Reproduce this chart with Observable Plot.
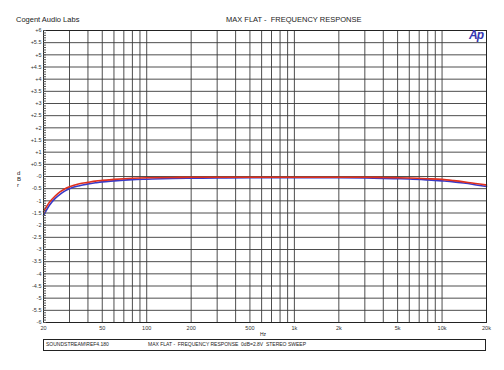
<!DOCTYPE html>
<html><head><meta charset="utf-8">
<script src="https://cdn.jsdelivr.net/npm/d3@7"></script>
<script src="https://cdn.jsdelivr.net/npm/@observablehq/plot@0.6"></script>
<style>
body{margin:0;background:#fff;font-family:"Liberation Sans",Arial,sans-serif;}
#wrap{position:relative;width:504px;height:370px;}
.t{position:absolute;white-space:pre;color:#222;line-height:1;}
</style></head><body><div id="wrap"></div>
<script>
const freqs = [20,22,24,26,28,30,35,40,45,50,60,70,80,100,150,200,300,500,1000,2000,3000,4000,5000,6000,8000,10000,12000,14000,16000,18000,20000];
const redDb = [-1.45,-1.05,-0.8,-0.62,-0.5,-0.42,-0.3,-0.24,-0.19,-0.16,-0.12,-0.09,-0.07,-0.05,-0.04,-0.03,-0.03,-0.03,-0.03,-0.03,-0.03,-0.04,-0.05,-0.06,-0.09,-0.12,-0.17,-0.22,-0.27,-0.31,-0.35];
const blueDb = [-1.6,-1.17,-0.9,-0.72,-0.59,-0.5,-0.38,-0.31,-0.26,-0.22,-0.18,-0.15,-0.13,-0.11,-0.08,-0.07,-0.06,-0.05,-0.05,-0.05,-0.06,-0.08,-0.09,-0.1,-0.14,-0.18,-0.22,-0.27,-0.32,-0.37,-0.41];
const xTickValues = [20,50,100,200,500,1000,2000,5000,10000,20000];
const xTickText = ["20","50","100","200","500","1k","2k","5k","10k","20k"];
const xGrid = [30,40,50,60,70,80,90,100,200,300,400,500,600,700,800,900,1000,2000,3000,4000,5000,6000,7000,8000,9000,10000];
const yMajor = d3.range(-6, 6.001, 0.5).map(v => +v.toFixed(1));
const yMinor = d3.range(-6, 6.001, 0.1).map(v => +v.toFixed(1));
const titleLeft = "Cogent Audio Labs";
const titleCenter = "MAX FLAT -  FREQUENCY RESPONSE";
const footLeft = "SOUNDSTREAM\\REF4.180";
const footRight = "MAX FLAT -  FREQUENCY RESPONSE  0dB=2.8V  STEREO SWEEP";

const red = freqs.map((f,i)=>({f, db: redDb[i]}));
const blue = freqs.map((f,i)=>({f, db: blueDb[i]}));
const xLabels = xTickValues.map((v,i)=>({v, t: xTickText[i]}));
const fmtY = v => v > 0 ? "+" + v : (v === 0 ? "-0" : String(v));

const chart = Plot.plot({
  width: 504, height: 370,
  marginLeft: 43, marginRight: 18, marginTop: 30, marginBottom: 48,
  style: {fontFamily: "Liberation Sans, Arial, sans-serif", fontSize: "5.5px", color: "#333", background: "#fff"},
  x: {type: "log", domain: [20, 20000], axis: null},
  y: {domain: [-6, 6]},
  marks: [
    Plot.ruleY(yMajor, {stroke: "#3a3a3a", strokeWidth: 0.9}),
    Plot.ruleX(xGrid, {stroke: "#3a3a3a", strokeWidth: 0.9}),
    Plot.line(blue, {x: "f", y: "db", stroke: "#3a3ac8", strokeWidth: 1.6, curve: "monotone-x"}),
    Plot.line(red, {x: "f", y: "db", stroke: "#e0301e", strokeWidth: 1.6, curve: "monotone-x"}),
    Plot.frame({stroke: "#222", strokeWidth: 1}),
    Plot.axisY({ticks: yMajor, tickSize: 0, tickPadding: 2, tickFormat: fmtY, label: null, fontSize: 5.5}),
    Plot.axisY({ticks: yMinor, tickSize: -3, tickFormat: () => "", label: null, stroke: "#555"}),
    Plot.text(xLabels, {x: "v", text: "t", frameAnchor: "bottom", dy: 7, fontSize: 5.5, fill: "#333"})
  ]
});
const wrap = document.getElementById("wrap");
wrap.appendChild(chart);
function addText(txt, css){const d=document.createElement("div");d.className="t";d.textContent=txt;Object.assign(d.style,css);wrap.appendChild(d);}
addText(titleLeft,{left:"16px",top:"16px",fontSize:"7.5px"});
addText(titleCenter,{left:"226px",top:"16px",fontSize:"7.5px"});
addText("Ap",{left:"469px",top:"29px",fontSize:"12px",fontWeight:"bold",fontStyle:"italic",color:"#3535b0",letterSpacing:"-1px"});
addText("Hz",{left:"260px",top:"332px",fontSize:"5px"});
["d","B","r"].forEach((c,i)=>addText(c,{left:"17px",top:(170+i*6)+"px",fontSize:"6px"}));
const box=document.createElement("div");
Object.assign(box.style,{position:"absolute",left:"43px",top:"339px",width:"441px",height:"10px",border:"1px solid #222",boxSizing:"content-box"});
wrap.appendChild(box);
addText(footLeft,{left:"46px",top:"342px",fontSize:"5px"});
addText(footRight,{left:"148px",top:"342px",fontSize:"5px"});
</script></body></html>
